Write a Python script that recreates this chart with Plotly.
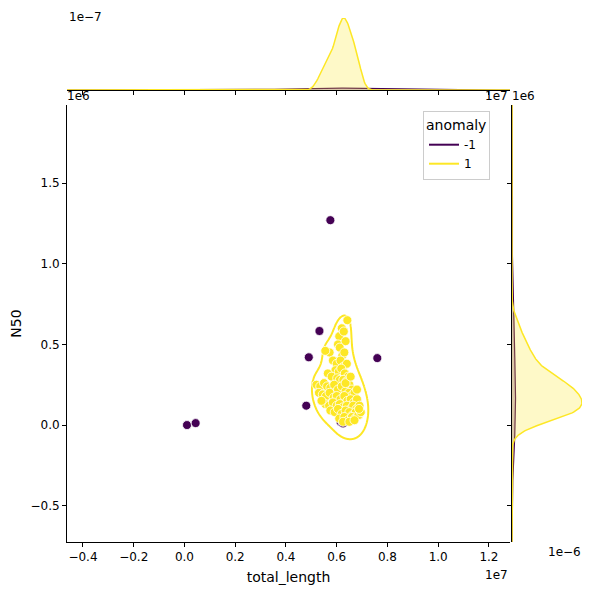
import numpy as np
import plotly.graph_objects as go

# anomaly = -1 points (total_length, N50)
out_x = [0.01e7, 0.044e7, 0.575e7, 0.532e7, 0.49e7, 0.48e7, 0.76e7, 0.603e7, 0.68e7, 0.615e7, 0.625e7]
out_y = [0.0e6, 0.012e6, 1.27e6, 0.583e6, 0.42e6, 0.12e6, 0.415e6, 0.385e6, 0.155e6, 0.02e6, 0.01e6]

# anomaly = 1 points
in_x = [6.42, 6.20, 6.10, 6.28, 5.72, 6.05, 6.35, 5.55, 6.12, 6.22, 6.30, 5.85, 6.00, 6.15,
        6.25, 6.40, 5.95, 6.08, 6.18, 6.32, 6.45, 5.65, 5.80, 6.02, 6.12, 6.26, 6.38, 6.50,
        6.60, 5.20, 5.35, 5.50, 5.62, 5.75, 5.90, 6.05, 6.20, 6.35, 6.48, 6.58, 6.70, 5.30,
        5.45, 5.58, 5.72, 5.88, 6.00, 6.15, 6.30, 6.42, 6.55, 6.68, 6.80, 5.55, 5.70, 5.85,
        6.00, 6.12, 6.25, 6.40, 6.55, 6.65, 6.78, 6.90, 5.75, 5.92, 6.05, 6.20, 6.35, 6.50,
        6.62, 6.75, 6.88, 6.10, 6.30, 6.45, 6.60, 6.72, 6.85, 6.95, 6.25, 6.50, 6.70, 6.88,
        5.40, 6.35, 6.55, 6.80]
in_y = [0.65, 0.60, 0.55, 0.58, 0.45, 0.50, 0.52, 0.46, 0.48, 0.43, 0.45, 0.40, 0.38, 0.40,
        0.36, 0.38, 0.34, 0.33, 0.35, 0.32, 0.30, 0.32, 0.30, 0.29, 0.28, 0.28, 0.27, 0.25,
        0.22, 0.25, 0.24, 0.26, 0.24, 0.23, 0.25, 0.22, 0.24, 0.21, 0.20, 0.18, 0.20, 0.20,
        0.19, 0.18, 0.20, 0.17, 0.18, 0.16, 0.18, 0.15, 0.16, 0.14, 0.16, 0.13, 0.12, 0.14,
        0.12, 0.13, 0.11, 0.12, 0.10, 0.12, 0.10, 0.12, 0.09, 0.08, 0.10, 0.07, 0.09, 0.08,
        0.06, 0.08, 0.06, 0.04, 0.05, 0.03, 0.05, 0.04, 0.06, 0.08, 0.02, 0.02, 0.03, 0.10,
        0.15, 0.26, 0.30, 0.22]
in_x = [v * 1e6 for v in in_x]
in_y = [v * 1e6 for v in in_y]

PURPLE = "#440154"
YELLOW = "#fde725"

def kde1(data, grid):
    d = np.asarray(data, float)
    h = d.std(ddof=1) * len(d) ** (-1 / 5)
    return np.exp(-0.5 * ((grid[:, None] - d[None, :]) / h) ** 2).sum(1) / (len(d) * h * np.sqrt(2 * np.pi))

n_all = len(in_x) + len(out_x)
gx = np.linspace(-0.463e7, 1.283e7, 600)
gy = np.linspace(-0.725e6, 1.984e6, 600)
kx_in = kde1(in_x, gx) * len(in_x) / n_all
kx_out = kde1(out_x, gx) * len(out_x) / n_all
ky_in = kde1(in_y, gy) * len(in_y) / n_all
ky_out = kde1(out_y, gy) * len(out_y) / n_all

# 2D KDE for contour of anomaly=1
X = np.asarray(in_x); Y = np.asarray(in_y)
n = len(X)
hx = X.std(ddof=1) * n ** (-1 / 6) * 1.15; hy = Y.std(ddof=1) * n ** (-1 / 6) * 1.05
cx = np.linspace(4.6e6, 7.8e6, 220); cy = np.linspace(-0.3e6, 1.0e6, 220)
D = np.zeros((len(cy), len(cx)))
for xi, yi in zip(X, Y):
    D += np.exp(-0.5 * ((cx[None, :] - xi) / hx) ** 2 - 0.5 * ((cy[:, None] - yi) / hy) ** 2)
D /= D.sum()
s = np.sort(D.ravel())[::-1]
cum = np.cumsum(s)
level = s[np.searchsorted(cum, 0.93)]

fig = go.Figure()
fig.add_trace(go.Scatter(x=out_x, y=out_y, mode="markers", showlegend=False,
                         marker=dict(color=PURPLE, size=9, line=dict(color="white", width=0.8))))
fig.add_trace(go.Scatter(x=in_x, y=in_y, mode="markers", showlegend=False,
                         marker=dict(color=YELLOW, size=9, line=dict(color="white", width=0.8))))
fig.add_trace(go.Contour(x=cx, y=cy, z=D, showscale=False, contours=dict(coloring="lines", start=level, end=level, size=1),
                         colorscale=[[0, YELLOW], [1, YELLOW]], line=dict(width=2), hoverinfo="skip"))
fig.add_trace(go.Scatter(x=[None], y=[None], mode="lines", line=dict(color=PURPLE), name="-1"))
fig.add_trace(go.Scatter(x=[None], y=[None], mode="lines", line=dict(color=YELLOW), name="1"))

# marginals
fig.add_trace(go.Scatter(x=gx, y=kx_out, mode="lines", line=dict(color=PURPLE, width=1.2), fill="tozeroy",
                         fillcolor="rgba(68,1,84,0.25)", xaxis="x2", yaxis="y2", showlegend=False))
fig.add_trace(go.Scatter(x=gx, y=kx_in, mode="lines", line=dict(color=YELLOW, width=1.5), fill="tozeroy",
                         fillcolor="rgba(253,231,37,0.25)", xaxis="x2", yaxis="y2", showlegend=False))
fig.add_trace(go.Scatter(x=ky_out, y=gy, mode="lines", line=dict(color=PURPLE, width=1.2), fill="tozerox",
                         fillcolor="rgba(68,1,84,0.25)", xaxis="x3", yaxis="y3", showlegend=False))
fig.add_trace(go.Scatter(x=ky_in, y=gy, mode="lines", line=dict(color=YELLOW, width=1.5), fill="tozerox",
                         fillcolor="rgba(253,231,37,0.25)", xaxis="x3", yaxis="y3", showlegend=False))

W, H = 600, 600
OFF = 8  # page body margin
def px(v):
    return (v - OFF) / W
def py(v):
    return min(1.0, 1 - (v - OFF) / H)
L, R, T, B = 67, 510, 105, 542
x0, x1 = px(L), px(R)
y0, y1 = py(B), py(T)
xtv = [-0.4e7, -0.2e7, 0, 0.2e7, 0.4e7, 0.6e7, 0.8e7, 1.0e7, 1.2e7]
xtt = ["\u22120.4", "\u22120.2", "0.0", "0.2", "0.4", "0.6", "0.8", "1.0", "1.2"]
ytv = [-0.5e6, 0, 0.5e6, 1.0e6, 1.5e6]
ytt = ["\u22120.5", "0.0", "0.5", "1.0", "1.5"]
ax = dict(showgrid=False, zeroline=False, showline=True, linecolor="black", ticks="outside",
          ticklen=4, tickcolor="black", mirror=False, automargin=False)
fig.update_layout(
    width=W, height=H, margin=dict(l=0, r=0, t=0, b=0), plot_bgcolor="white", paper_bgcolor="white",
    font=dict(family="DejaVu Sans", size=12, color="black"),
    xaxis=dict(domain=[x0, x1], range=[-0.463e7, 1.283e7], tickvals=xtv, ticktext=xtt,
               title=dict(text="total_length", standoff=8), anchor="y", **ax),
    yaxis=dict(domain=[y0, y1], range=[-0.725e6, 1.984e6], tickvals=ytv, ticktext=ytt,
               title=dict(text="N50", standoff=8), anchor="x", **ax),
    xaxis2=dict(domain=[x0, x1], range=[-0.463e7, 1.283e7], tickvals=xtv, showticklabels=False, anchor="y2", **ax),
    yaxis2=dict(domain=[py(90), py(18)], range=[0, kx_in.max()], showticklabels=False, ticks="",
                showline=False, showgrid=False, zeroline=False, anchor="x2", automargin=False),
    xaxis3=dict(domain=[px(512), px(582)], range=[0, ky_in.max()], showticklabels=False, ticks="",
                showline=False, showgrid=False, zeroline=False, anchor="y3", automargin=False),
    yaxis3=dict(domain=[y0, y1], range=[-0.725e6, 1.984e6], tickvals=ytv, showticklabels=False, anchor="x3", **ax),
    legend=dict(title=dict(text="anomaly"), x=px(490), y=py(111), xanchor="right", yanchor="top",
                bordercolor="#cccccc", borderwidth=1, bgcolor="white"),
    annotations=[
        dict(text="1e\u22127", x=px(67), y=1, xref="paper", yref="paper", xanchor="left", yanchor="top", showarrow=False),
        dict(text="1e6", x=px(65), y=py(87), xref="paper", yref="paper", xanchor="left", yanchor="top", showarrow=False),
        dict(text="1e7", x=px(510), y=py(87), xref="paper", yref="paper", xanchor="right", yanchor="top", showarrow=False),
        dict(text="1e6", x=px(510), y=py(87), xref="paper", yref="paper", xanchor="left", yanchor="top", showarrow=False),
        dict(text="1e\u22126", x=px(546), y=py(543), xref="paper", yref="paper", xanchor="left", yanchor="top", showarrow=False),
        dict(text="1e7", x=px(510), y=py(566), xref="paper", yref="paper", xanchor="right", yanchor="top", showarrow=False),
    ],
)
fig.write_html("out.html")
